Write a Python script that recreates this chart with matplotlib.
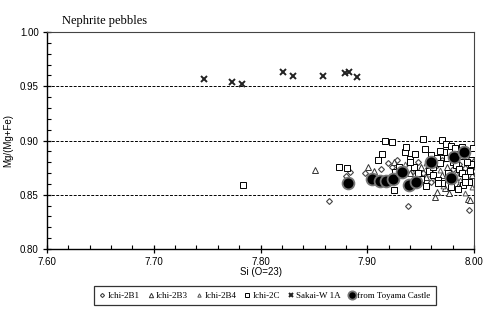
import matplotlib
matplotlib.use("Agg")
import matplotlib.pyplot as plt
from matplotlib.ticker import MultipleLocator, FormatStrFormatter

# ---- data ----
b1_x = [7.864, 7.884, 7.880, 7.898, 7.913, 7.919, 7.923, 7.928, 7.938, 7.995, 7.943, 7.952, 7.957,
        7.965, 7.970, 7.980, 7.986, 7.990, 7.997, 7.960, 7.975, 7.948, 7.992, 7.999]
b1_y = [0.844, 0.871, 0.867, 0.870, 0.874, 0.879, 0.876, 0.882, 0.840, 0.836, 0.872, 0.870, 0.875,
        0.877, 0.882, 0.874, 0.878, 0.868, 0.884, 0.862, 0.866, 0.880, 0.875, 0.872]

b3_x = [7.851, 7.901, 7.906, 7.930, 7.940, 7.947, 7.955, 7.963, 7.965, 7.973, 7.977, 7.985, 7.994,
        7.996, 7.993, 7.998, 7.960, 7.970, 7.982, 7.988, 7.975, 7.950, 7.925]
b3_y = [0.873, 0.876, 0.872, 0.873, 0.870, 0.868, 0.866, 0.848, 0.853, 0.856, 0.852, 0.858, 0.846,
        0.845, 0.862, 0.868, 0.872, 0.868, 0.866, 0.872, 0.876, 0.876, 0.880]

b4_x = [7.935, 7.945, 7.958, 7.968, 7.978, 7.987, 7.992, 7.998, 7.963, 7.971, 7.983, 7.955]
b4_y = [0.878, 0.874, 0.869, 0.873, 0.862, 0.864, 0.852, 0.857, 0.865, 0.858, 0.870, 0.879]

c2_x = [7.784, 7.874, 7.881, 7.910, 7.914, 7.917, 7.923, 7.925, 7.935, 7.936, 7.952, 7.954, 7.970,
        7.974, 7.978, 7.960, 7.965, 7.968, 7.972, 7.975, 7.980, 7.983, 7.986, 7.989, 7.992, 7.995,
        7.997, 7.998, 7.999, 7.996, 7.990, 7.985, 7.958, 7.962, 7.966, 7.970, 7.944, 7.948, 7.950,
        7.940, 7.945, 7.930, 7.926, 7.955, 7.962, 7.982, 7.988, 7.976, 7.993, 7.968, 7.989, 7.966,
        7.978, 7.992, 7.940]
c2_y = [0.859, 0.876, 0.875, 0.882, 0.888, 0.8995, 0.899, 0.854, 0.889, 0.894, 0.901, 0.892, 0.9005,
        0.897, 0.895, 0.887, 0.884, 0.879, 0.889, 0.884, 0.880, 0.877, 0.874, 0.870, 0.866, 0.862,
        0.878, 0.888, 0.893, 0.872, 0.859, 0.855, 0.872, 0.868, 0.864, 0.861, 0.876, 0.870, 0.865,
        0.883, 0.888, 0.876, 0.871, 0.858, 0.876, 0.893, 0.886, 0.870, 0.880, 0.890, 0.894, 0.861,
        0.857, 0.862, 0.880]

sw_x = [7.747, 7.773, 7.783, 7.821, 7.830, 7.859, 7.879, 7.883, 7.890]
sw_y = [0.957, 0.954, 0.952, 0.963, 0.959, 0.959, 0.962, 0.963, 0.9585]

ty_x = [7.882, 7.904, 7.912, 7.918, 7.924, 7.933, 7.939, 7.946, 7.960, 7.978, 7.981, 7.991]
ty_y = [0.861, 0.8645, 0.863, 0.863, 0.8645, 0.871, 0.859, 0.862, 0.880, 0.8655, 0.885, 0.889]

labels = ["Ichi-2B1", "Ichi-2B3", "Ichi-2B4", "Ichi-2C", "Sakai-W 1A", "from Toyama Castle"]

serif = ["Liberation Serif", "DejaVu Serif"]
narrow = ["Liberation Sans Narrow", "Liberation Sans", "DejaVu Sans"]

fig = plt.figure(figsize=(5.0, 3.26), dpi=100)
ax = fig.add_axes([0.094, 0.236, 0.854, 0.666])

ax.set_xlim(7.60, 8.00)
ax.set_ylim(0.80, 1.00)

for yv in [0.85, 0.90, 0.95]:
    ax.axhline(yv, color="black", lw=0.7, ls=(0, (3, 1.5)), zorder=1)

ax.plot(b1_x, b1_y, ls="none", marker="D", ms=3, mfc="white", mec="#444444", mew=0.8, label=labels[0], zorder=3)
ax.plot(b3_x, b3_y, ls="none", marker="^", ms=4.5, mfc="white", mec="#333333", mew=0.7, label=labels[1], zorder=3)
ax.plot(b4_x, b4_y, ls="none", marker="^", ms=3.5, mfc="white", mec="#555555", mew=0.7, label=labels[2], zorder=3)
ax.plot(c2_x, c2_y, ls="none", marker="s", ms=4, mfc="white", mec="black", mew=0.7, label=labels[3], zorder=3)
ax.plot(sw_x, sw_y, ls="none", marker="x", ms=4.2, color="#222222", mew=1.4, label=labels[4], zorder=3)
ax.plot(ty_x, ty_y, ls="none", marker="o", ms=8.5, mfc="black", mec="#777777", mew=1.3, label=labels[5], zorder=4)

ax.xaxis.set_major_locator(MultipleLocator(0.1))
ax.xaxis.set_minor_locator(MultipleLocator(0.02))
ax.yaxis.set_major_locator(MultipleLocator(0.05))
ax.yaxis.set_minor_locator(MultipleLocator(0.01))
ax.xaxis.set_major_formatter(FormatStrFormatter("%.2f"))
ax.yaxis.set_major_formatter(FormatStrFormatter("%.2f"))
ax.tick_params(which="major", direction="inout", length=6, width=0.9, labelsize=7, pad=3)
ax.tick_params(which="minor", direction="in", length=3, width=0.8)
for lab in ax.get_xticklabels() + ax.get_yticklabels():
    lab.set_family(narrow)

for s in ["left", "bottom"]:
    ax.spines[s].set_linewidth(1.0)
for s in ["top", "right"]:
    ax.spines[s].set_linewidth(0.8)
    ax.spines[s].set_color("#444444")

ax.set_xlabel("Si (O=23)", family=narrow, fontsize=7, labelpad=0)
ax.set_ylabel("Mg/(Mg+Fe)", family=narrow, fontsize=7, labelpad=5)

fig.text(0.124, 0.925, "Nephrite pebbles", family=serif, fontsize=9)

leg = fig.legend(loc="center", bbox_to_anchor=(0.53, 0.0925), ncol=6, frameon=True,
                 prop={"family": serif, "size": 6.5}, handlelength=0.6, handletextpad=0.3,
                 columnspacing=0.9, borderpad=0.6, fancybox=False, shadow=False, markerscale=0.7)
leg.get_frame().set_edgecolor("black")
leg.get_frame().set_linewidth(0.9)

fig.savefig("out.png", dpi=100)
